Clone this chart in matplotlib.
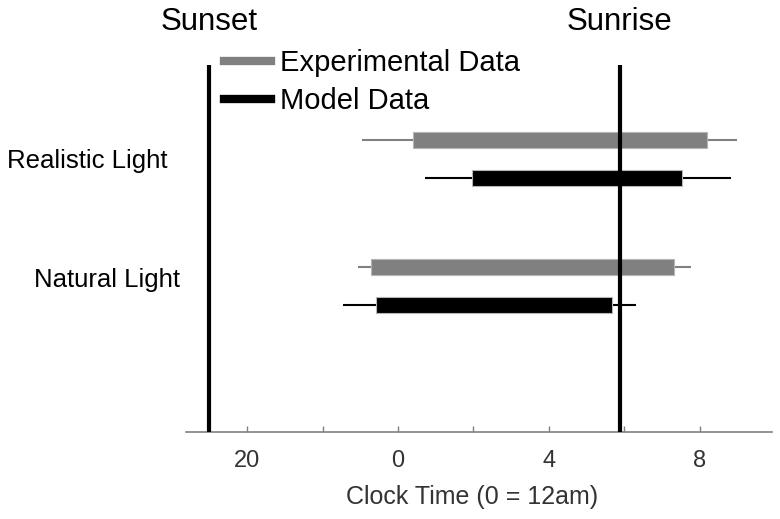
import numpy as np
import matplotlib.pyplot as plt
from matplotlib.lines import Line2D
from matplotlib.transforms import blended_transform_factory

plt.rcParams["font.family"] = ["Liberation Sans", "DejaVu Sans"]

# hours relative to midnight (negative = previous evening)
conditions = ["Realistic Light", "Natural Light"]
exp_range = [(-0.95, 8.99), (-1.06, 7.77)]      # thin whisker
exp_core = [(0.40, 8.20), (-0.72, 7.32)]        # thick bar
mod_range = [(0.72, 8.83), (-1.45, 6.31)]
mod_core = [(1.96, 7.53), (-0.58, 5.68)]
sunset, sunrise = -5.0, 5.88
tick_pos = [-4, -2, 0, 2, 4, 6, 8]
tick_lab = ["20", "", "0", "", "4", "", "8"]

GRAY = "#808080"
INK = "#000000"

fig = plt.figure(figsize=(7.8, 5.19), dpi=100)
ax = fig.add_axes([0.2385, 0.1676, 0.7512, 0.7072])

rows = np.arange(1, len(conditions) + 1)
off = 0.15
for i, y in enumerate(rows):
    for (rng, core, col, dy) in [(exp_range[i], exp_core[i], GRAY, -off),
                                 (mod_range[i], mod_core[i], INK, off)]:
        ax.hlines(y + dy, rng[0], rng[1], color=col, lw=1.5, zorder=2)
        ax.barh(y + dy, core[1] - core[0], left=core[0], height=0.12,
                color=col, edgecolor="#b5b5b5", lw=0.8, zorder=3)

ax.axvline(sunset, color=INK, lw=3, zorder=4)
ax.axvline(sunrise, color=INK, lw=3, zorder=4)

trans = blended_transform_factory(ax.transData, fig.transFigure)
ax.text(sunset, 0.942, "Sunset", transform=trans, ha="center", va="baseline",
        fontsize=22.5)
ax.text(sunrise, 0.942, "Sunrise", transform=trans, ha="center", va="baseline",
        fontsize=22.5)

# row labels
fig.text(0.1122, 0.6757, conditions[0], ha="center", va="baseline", fontsize=18.5)
fig.text(0.1372, 0.447, conditions[1], ha="center", va="baseline", fontsize=18.5)

handles = [Line2D([], [], color=GRAY, lw=6), Line2D([], [], color=INK, lw=6)]
fig.legend(handles, ["Experimental Data", "Model Data"], loc="center left",
           bbox_to_anchor=(0.2875, 0.8415), frameon=False, fontsize=21,
           handlelength=1.6, handletextpad=0.3, borderpad=0, borderaxespad=0,
           labelspacing=0.33)

ax.set_xlim(-5.62, 9.92)
ax.set_ylim(3.15, 0.26)
ax.set_xticks(tick_pos)
ax.set_xticklabels(tick_lab)
ax.tick_params(axis="x", direction="in", length=4.5, width=1, color=GRAY,
               labelsize=17, labelcolor="#333333", pad=13)
ax.set_yticks([])
ax.set_xlabel("Clock Time (0 = 12am)", fontsize=18, color="#333333")
ax.xaxis.set_label_coords(0.488, -0.145)
for s in ["top", "right", "left"]:
    ax.spines[s].set_visible(False)
ax.spines["bottom"].set_color(GRAY)
ax.spines["bottom"].set_linewidth(1.2)

fig.savefig("out.png", dpi=100)
